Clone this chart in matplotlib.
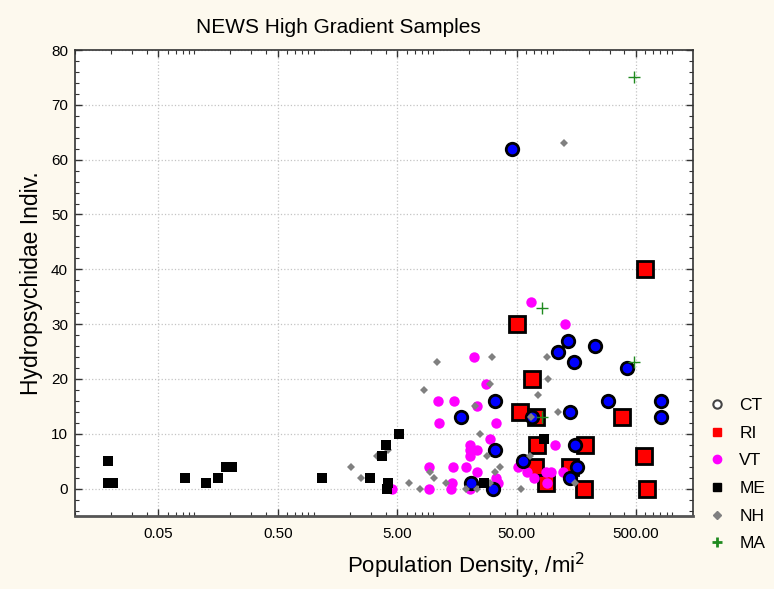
import numpy as np
import matplotlib
matplotlib.use('Agg')
import matplotlib.pyplot as plt
from matplotlib.lines import Line2D
from matplotlib.ticker import FixedLocator, LogLocator, MultipleLocator, NullFormatter

plt.rcParams['font.family'] = ['Liberation Sans', 'DejaVu Sans']

# --- data ---
ct_x = [45.3, 134, 225, 112, 152, 424, 32.8, 294, 816, 17.1, 67, 816, 140, 155, 32.8, 57, 160, 140, 20.7, 31.5]
ct_y = [62, 27, 26, 25, 23, 22, 16, 16, 16, 13, 13, 13, 14, 8, 7, 5, 4, 2, 1, 0]

ri_x = [600, 50, 66.7, 53, 72.6, 379, 73.5, 187, 582, 71.3, 140, 88.5, 182, 620]
ri_y = [40, 30, 20, 14, 13, 13, 8, 8, 6, 4, 4, 1, 0, 0]

vt_x = [65.6, 127, 21.9, 27.6, 11, 14.9, 23.2, 11.2, 33.9, 30.2, 20.5, 104, 23.4, 20.3, 20.5,
        9.3, 14.6, 18.8, 51.3, 23.4, 60.8, 88.5, 97, 123, 33.6, 70, 14.3, 35, 90, 4.5, 9.3, 14, 20.3]
vt_y = [34, 30, 24, 19, 16, 16, 15, 12, 12, 9, 8, 8, 7, 7, 6,
        4, 4, 4, 4, 3, 3, 3, 3, 3, 2, 2, 1, 1, 1, 0, 0, 0, 0]

me_x = [0.019, 0.019, 0.0207, 0.084, 0.126, 0.159, 0.183, 0.205, 1.17, 2.98, 3.73, 4.03, 5.2, 4.2, 4.1, 26.5, 85.4]
me_y = [5, 1, 1, 2, 1, 2, 4, 4, 2, 2, 6, 8, 10, 1, 0, 1, 9]

nh_x = [125.6, 10.7, 31.2, 90, 8.3, 30.2, 92, 76, 22.3, 111, 66, 24.6, 28, 4.2, 3.4, 2.06,
        2.5, 6.3, 7.8, 9.4, 10.2, 12.8, 19.0, 23.2, 29.8, 33.2, 36.1, 54, 64.8, 154]
nh_y = [63, 23, 24, 24, 18, 19, 20, 17, 15, 14, 13, 10, 6, 7, 6, 4,
        2, 1, 0, 3, 2, 1, 0, 0, 1, 3, 4, 0, 6, 1]

ma_x = [483, 81, 483, 81.5]
ma_y = [75, 33, 23, 13]

x_ticks = [0.05, 0.5, 5, 50, 500]
x_tick_labels = ['0.05', '0.50', '5.00', '50.00', '500.00']
y_ticks = [0, 10, 20, 30, 40, 50, 60, 70, 80]

bg = '#fdf9ee'
fig = plt.figure(figsize=(7.74, 5.89), dpi=100, facecolor=bg)
ax = fig.add_axes([75/774, 1 - 516/589, 618/774, 466/589])
ax.set_facecolor('white')

# draw order: RI, VT, CT, NH, ME, MA
ax.plot(ri_x, ri_y, 's', ms=11, mfc='#ff0000', mec='black', mew=2, ls='none')
ax.plot(vt_x, vt_y, 'o', ms=7.5, mfc='#ff00ff', mec='#ff00ff', mew=0, ls='none')
ax.plot(ct_x, ct_y, 'o', ms=9, mfc='#0000ff', mec='black', mew=2, ls='none')
ax.plot(nh_x, nh_y, 'D', ms=4.5, mfc='#808080', mec='#808080', mew=0, ls='none')
ax.plot(me_x, me_y, 's', ms=6.5, mfc='black', mec='black', mew=0, ls='none')
ax.plot(ma_x, ma_y, '+', ms=8, mec='#1f8a1f', mew=1, ls='none')

ax.set_xscale('log')
ax.set_xlim(0.01, 1500)
ax.set_ylim(-5, 80)
ax.xaxis.set_major_locator(FixedLocator(x_ticks))
ax.set_xticklabels(x_tick_labels)
ax.xaxis.set_minor_locator(LogLocator(base=10, subs=np.arange(1, 10), numticks=20))
ax.xaxis.set_minor_formatter(NullFormatter())
ax.set_yticks(y_ticks)
ax.yaxis.set_minor_locator(MultipleLocator(2))

ax.tick_params(which='both', direction='in', top=True, right=True, colors='#333333',
               labelcolor='black', labelsize=11)
ax.tick_params(which='major', length=5, width=1)
ax.tick_params(which='minor', length=3, width=0.8)
ax.tick_params(axis='x', pad=8)
ax.tick_params(axis='y', pad=5)

ax.grid(True, which='major', linestyle=':', color='#c4c4c4', linewidth=0.9)
ax.set_axisbelow(True)

for side in ['top', 'right', 'left']:
    ax.spines[side].set_color('#333333')
    ax.spines[side].set_linewidth(1.2)
ax.spines['bottom'].set_color('#555555')
ax.spines['bottom'].set_linewidth(2)

ax.set_title('NEWS High Gradient Samples', fontsize=15, pad=12, x=(338 - 75) / 618)
ax.set_xlabel('Population Density, /mi$^2$', fontsize=16)
ax.xaxis.set_label_coords((466 - 75) / 618, -0.075)
ax.set_ylabel('Hydropsychidae Indiv.', fontsize=16.5)
ax.yaxis.set_label_coords(-0.052, 0.5)

# legend, markers only
handles = [
    Line2D([], [], marker='o', ls='none', ms=6, mfc='white', mec='#444444', mew=1.5),
    Line2D([], [], marker='s', ls='none', ms=5.5, mfc='#ff0000', mec='#ff0000'),
    Line2D([], [], marker='o', ls='none', ms=6, mfc='#ff00ff', mec='#ff00ff'),
    Line2D([], [], marker='s', ls='none', ms=5.5, mfc='black', mec='black'),
    Line2D([], [], marker='D', ls='none', ms=4, mfc='#808080', mec='#808080'),
    Line2D([], [], marker='+', ls='none', ms=7, mec='#1f8a1f', mew=2),
]
labels = ['CT', 'RI', 'VT', 'ME', 'NH', 'MA']
fig.legend(handles, labels, loc='upper left', bbox_to_anchor=(701/774, 1 - 391/589),
           frameon=False, fontsize=12.5, handlelength=1.0, handletextpad=0.8,
           labelspacing=0.72, borderaxespad=0)

fig.savefig('out.png', dpi=100, facecolor=bg)
